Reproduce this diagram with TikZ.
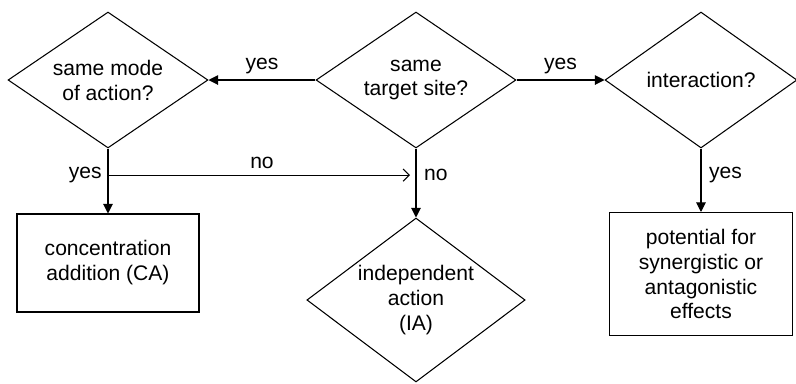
\documentclass[tikz,border=0pt]{standalone}
\usepackage{fontspec}
\setmainfont{Liberation Sans}
\usepackage{tikz}
\usetikzlibrary{positioning,calc,arrows.meta,shapes.geometric}

\begin{document}
\begin{tikzpicture}[x=0.02cm,y=-0.02cm,line width=0.6pt,
    font=\fontsize{12}{14.2}\selectfont,
    decision/.style={diamond,draw,aspect=1.47,inner sep=0pt,align=center},
    result/.style={rectangle,draw,inner sep=0pt,align=center},
    arrow/.style={-{Triangle[length=5.5pt,width=5.5pt]}},
    open/.style={-{Straight Barb[length=3.5pt,width=7pt]}}]

\useasboundingbox (0,0) rectangle (796,383);

% Fragen
\node[decision,minimum width=4cm,minimum height=2.72cm] (mode) at (108,80) {same mode\\of action?};
\node[decision,minimum width=4cm,minimum height=2.72cm] (site) at (416,80) {same\\target site?};
\node[decision,minimum width=3.84cm,minimum height=2.72cm] (inter) at (701,80) {interaction?};

% Ergebnisse
\node[result,minimum width=3.64cm,minimum height=1.96cm] (ca) at (108,263) {concentration\\addition (CA)};
\node[decision,minimum width=4.32cm,minimum height=3.28cm] (ia) at (416,300) {independent\\action\\(IA)};
\node[result,minimum width=3.66cm,minimum height=2.46cm] (syn) at (701,274) {potential for\\synergistic or\\antagonistic\\effects};

\draw[arrow] (site.west) -- (mode.east) node[midway,above] {yes};
\draw[arrow] (site.east) -- (inter.west) node[midway,above] {yes};

\draw[arrow] (mode.south) -- (ca.north);
\coordinate (split) at ($(mode.south)!0.41!(ca.north)$);
\node[left=0pt of split] {yes};
\draw[open,shorten >=0.12cm] (split) -- (split -| site.south) node[midway,above] {no};

\draw[arrow] (site.south) -- (ia.north);
\node[right=1pt of split -| site.south] {no};

\draw[arrow] (inter.south) -- (syn.north);
\node[right=1pt of split -| inter.south] {yes};

\end{tikzpicture}
\end{document}
